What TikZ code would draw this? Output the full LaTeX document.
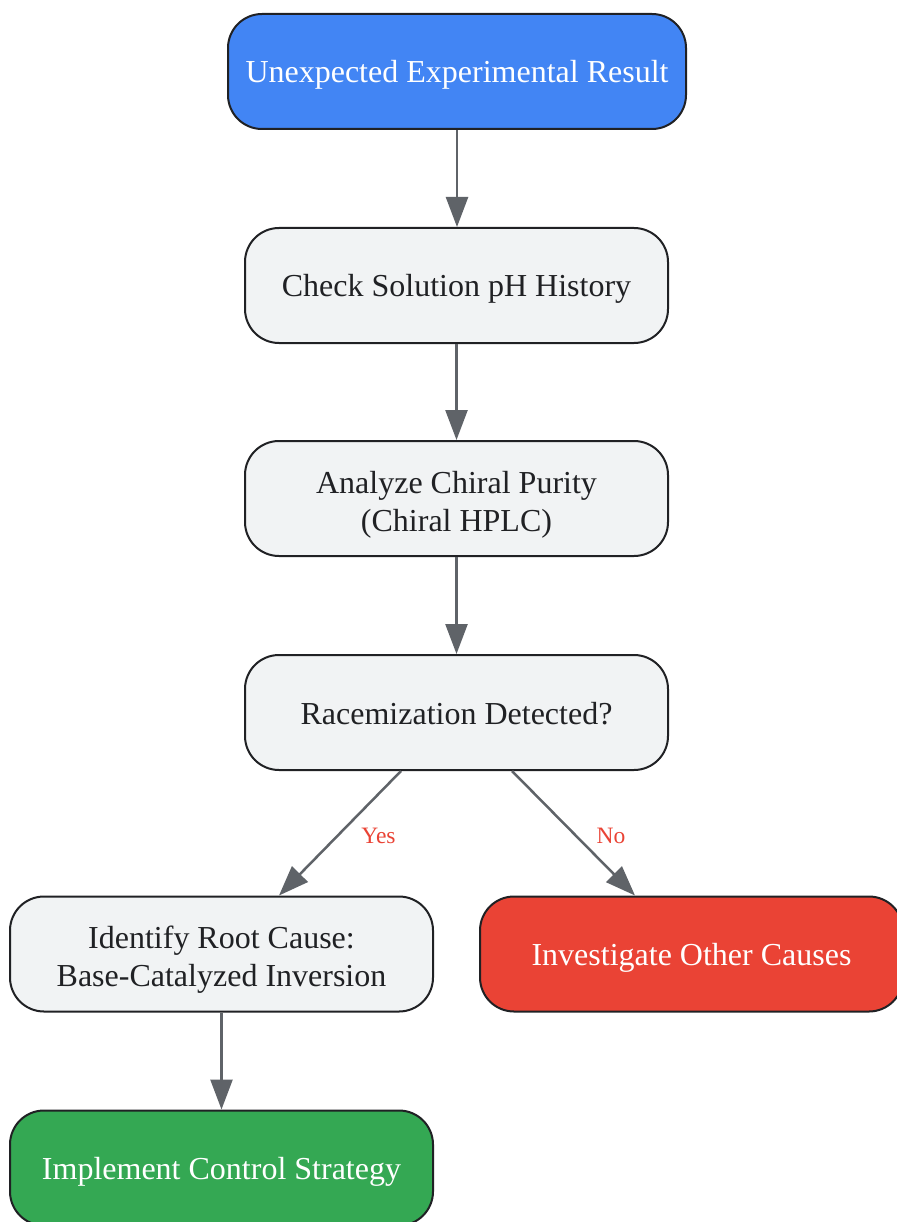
\documentclass[tikz,border=0pt]{standalone}
\usepackage{fontspec}
\setmainfont{Liberation Serif}
\usetikzlibrary{arrows.meta,calc}
\definecolor{gblue}{HTML}{4285F4}
\definecolor{ggray}{HTML}{F1F3F4}
\definecolor{gred}{HTML}{EA4335}
\definecolor{ggreen}{HTML}{34A853}
\definecolor{gdark}{HTML}{202124}
\definecolor{garrow}{HTML}{5F6368}
\newcommand{\topstrut}{\rule{0pt}{34pt}}
\newcommand{\botstrut}{\rule[-7pt]{0pt}{7pt}}
\begin{document}
\begin{tikzpicture}[x=1pt,y=-1pt,
  box/.style={draw=gdark, line width=2pt, rounded corners=34pt, minimum width=423pt, minimum height=115pt,
    align=center, font=\fontsize{32}{38}\selectfont, inner sep=0pt},
  oneline/.style={execute at begin node={\rule{0pt}{30pt}},
    execute at end node={\rule[-7pt]{0pt}{7pt}}},
  graybox/.style={box, fill=ggray, text=gdark},
  bluebox/.style={box, fill=gblue, text=white, minimum width=458pt},
  redbox/.style={box, fill=gred, text=white},
  greenbox/.style={box, fill=ggreen, text=white},
  conn/.style={draw=garrow, line width=2.5pt, -{Triangle[length=30pt,width=22pt]}},
  lbl/.style={text=gred, font=\fontsize{23.5}{27}\selectfont, inner sep=0pt}]
\useasboundingbox (0,0) rectangle (896,1222);
\fill[white] (0,0) rectangle (896,1222);
\node[bluebox, oneline] (a) at (457,71.5) {Unexpected Experimental Result};
\node[graybox, oneline] (b) at (456.5,285.5) {Check Solution pH History};
\node[graybox] (c) at (456.5,498.5) {\topstrut Analyze Chiral Purity\\(Chiral HPLC)\botstrut};
\node[graybox, oneline] (d) at (456.5,712.5) {Racemization Detected?};
\node[graybox] (e) at (221.5,954) {\topstrut Identify Root Cause:\\Base-Catalyzed Inversion\botstrut};
\node[redbox, oneline] (f) at (691.5,954) {Investigate Other Causes};
\node[greenbox, oneline] (g) at (221.5,1168) {Implement Control Strategy};
\draw[conn] (a.south) -- (a.south |- b.north);
\draw[conn] (b.south) -- (c.north);
\draw[conn] (c.south) -- (d.north);
\coordinate (dy) at ($(d.south)+(-55.5,0)$);
\coordinate (dn) at ($(d.south)+(55.5,0)$);
\coordinate (ey) at ($(e.north)+(57.5,0)$);
\coordinate (fn) at ($(f.north)+(-56.5,0)$);
\draw[conn] (dy) -- (ey);
\draw[conn] (dn) -- (fn);
\draw[conn] (e.south) -- (g.north);
\node[lbl] (ly) at (378.5,835.5) {Yes};
\node[lbl] (ln) at (611,835.5) {No};
\end{tikzpicture}
\end{document}
